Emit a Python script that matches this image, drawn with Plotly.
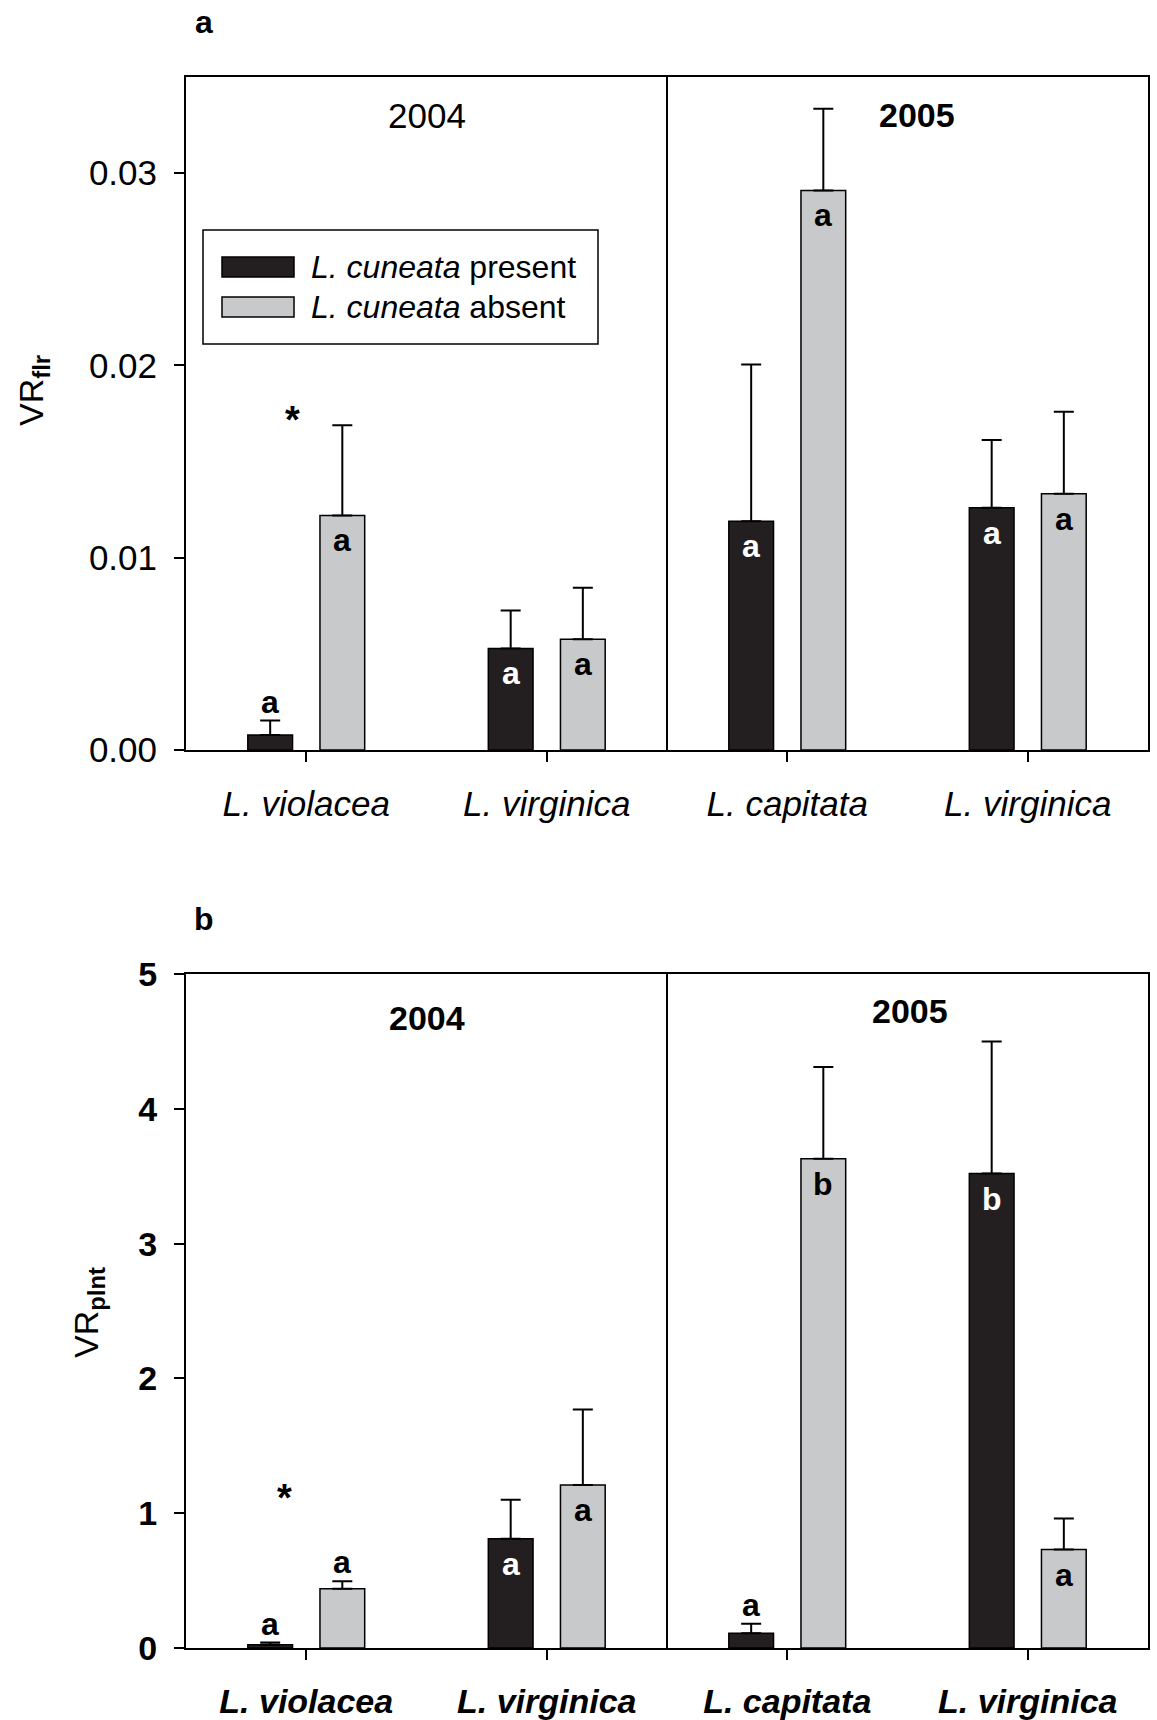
import plotly.graph_objects as go

W, H = 1157, 1720

# ---------------- data ----------------
species = ["L. violacea", "L. virginica", "L. capitata", "L. virginica"]
x_pos = [0, 1, 2, 3]
years = ["2004", "2005"]

# panel a : VR_flr
flr_present = [0.00078, 0.00528, 0.0119, 0.0126]
flr_present_se = [0.00075, 0.00198, 0.00815, 0.00352]
flr_absent = [0.0122, 0.00576, 0.0291, 0.01333]
flr_absent_se = [0.00469, 0.00268, 0.00425, 0.00426]
flr_letters_present = ["a", "a", "a", "a"]
flr_letters_absent = ["a", "a", "a", "a"]
flr_inside_present = [False, True, True, True]
flr_inside_absent = [True, True, True, True]
flr_ticks = [0, 0.01, 0.02, 0.03]

# panel b : VR_plnt
plnt_present = [0.025, 0.81, 0.11, 3.52]
plnt_present_se = [0.015, 0.29, 0.07, 0.98]
plnt_absent = [0.44, 1.21, 3.63, 0.73]
plnt_absent_se = [0.055, 0.56, 0.68, 0.23]
plnt_letters_present = ["a", "a", "a", "b"]
plnt_letters_absent = ["a", "a", "b", "a"]
plnt_inside_present = [False, True, False, True]
plnt_inside_absent = [False, True, True, True]
plnt_ticks = [0, 1, 2, 3, 4, 5]

BLACK = "#231f20"
GREY = "#c8c9cb"
FONT = "Liberation Sans, Arial, sans-serif"

BARGAP = 0.4
BARGROUPGAP = 0.38
OFF = (1 - BARGAP) / 4  # bar-centre offset from category centre


def px_x(px):
    return px / W


def px_y(py):
    return 1 - py / H


fig = go.Figure()

panels = [
    dict(xa="x", ya="y", pres=flr_present, pres_se=flr_present_se, abs_=flr_absent,
         abs_se=flr_absent_se, lp=flr_letters_present, la=flr_letters_absent,
         ip=flr_inside_present, ia=flr_inside_absent),
    dict(xa="x2", ya="y2", pres=plnt_present, pres_se=plnt_present_se, abs_=plnt_absent,
         abs_se=plnt_absent_se, lp=plnt_letters_present, la=plnt_letters_absent,
         ip=plnt_inside_present, ia=plnt_inside_absent),
]

annotations = []


def note(**kw):
    kw.setdefault("showarrow", False)
    kw.setdefault("xanchor", "center")
    kw.setdefault("yanchor", "middle")
    annotations.append(kw)


for p in panels:
    fig.add_trace(go.Bar(
        x=x_pos, y=p["pres"], name="L. cuneata present", xaxis=p["xa"], yaxis=p["ya"],
        marker=dict(color=BLACK, line=dict(color="black", width=1.5)),
        error_y=dict(type="data", symmetric=False, array=p["pres_se"],
                     arrayminus=[0] * 4, color="black", thickness=2, width=10),
        showlegend=False, offsetgroup="present"))
    fig.add_trace(go.Bar(
        x=x_pos, y=p["abs_"], name="L. cuneata absent", xaxis=p["xa"], yaxis=p["ya"],
        marker=dict(color=GREY, line=dict(color="black", width=1.5)),
        error_y=dict(type="data", symmetric=False, array=p["abs_se"],
                     arrayminus=[0] * 4, color="black", thickness=2, width=10),
        showlegend=False, offsetgroup="absent"))

    for i in range(4):
        for vals, ses, lets, ins, sign, fill in (
            (p["pres"], p["pres_se"], p["lp"], p["ip"], -1, "white"),
            (p["abs_"], p["abs_se"], p["la"], p["ia"], 1, "black"),
        ):
            if ins[i]:
                yv, ys, col = vals[i], -25, fill
            else:
                yv, ys, col = vals[i] + ses[i], 19, "black"
            note(x=x_pos[i] + sign * OFF, y=yv, xref=p["xa"], yref=p["ya"],
                 text="<b>%s</b>" % lets[i], yshift=ys,
                 font=dict(family=FONT, size=32, color=col))

# asterisks
note(x=-0.058, y=0.01717, xref="x", yref="y", text="<b>*</b>",
     font=dict(family=FONT, size=38, color="black"))
note(x=-0.09, y=1.11, xref="x2", yref="y2", text="<b>*</b>",
     font=dict(family=FONT, size=38, color="black"))

# year labels
note(x=0.5, y=0.9435, xref="x", yref="y domain", text=years[0],
     font=dict(family=FONT, size=35, color="black"))
note(x=2.54, y=0.9435, xref="x", yref="y domain", text="<b>%s</b>" % years[1],
     font=dict(family=FONT, size=34, color="black"))
note(x=0.5, y=0.935, xref="x2", yref="y2 domain", text="<b>%s</b>" % years[0],
     font=dict(family=FONT, size=34, color="black"))
note(x=2.51, y=0.945, xref="x2", yref="y2 domain", text="<b>%s</b>" % years[1],
     font=dict(family=FONT, size=34, color="black"))

# panel letters
note(x=px_x(204), y=px_y(22), xref="paper", yref="paper", text="<b>a</b>",
     font=dict(family=FONT, size=32, color="black"))
note(x=px_x(204), y=px_y(919), xref="paper", yref="paper", text="<b>b</b>",
     font=dict(family=FONT, size=32, color="black"))

# y-axis titles
note(x=px_x(33), y=px_y(391), xref="paper", yref="paper", text="VR<sub><b>flr</b></sub>",
     textangle=-90, font=dict(family=FONT, size=34, color="black"))
note(x=px_x(88), y=px_y(1312), xref="paper", yref="paper", text="VR<sub><b>plnt</b></sub>",
     textangle=-90, font=dict(family=FONT, size=34, color="black"))

# legend (drawn manually to reproduce the wide swatches)
legend_labels = ["<i>L. cuneata</i> present", "<i>L. cuneata</i> absent"]
legend_colors = [BLACK, GREY]
shapes = [dict(type="rect", xref="paper", yref="paper", x0=px_x(203), x1=px_x(598),
               y0=px_y(344), y1=px_y(230), line=dict(color="black", width=1.5),
               fillcolor="white", layer="above")]
for k, (lab, col) in enumerate(zip(legend_labels, legend_colors)):
    cy = 267 + 40 * k
    shapes.append(dict(type="rect", xref="paper", yref="paper", x0=px_x(222), x1=px_x(294),
                       y0=px_y(cy + 10), y1=px_y(cy - 10), fillcolor=col,
                       line=dict(color="black", width=1.5), layer="above"))
    note(x=px_x(309), y=px_y(cy), xref="paper", yref="paper", text=lab, xanchor="left",
         font=dict(family=FONT, size=32, color="black"))

# year dividers
shapes += [
    dict(type="line", xref="x", yref="y domain", x0=1.5, x1=1.5, y0=0, y1=1,
         line=dict(color="black", width=2)),
    dict(type="line", xref="x2", yref="y2 domain", x0=1.5, x1=1.5, y0=0, y1=1,
         line=dict(color="black", width=2)),
]

axis_common = dict(showline=True, linewidth=2, linecolor="black", mirror=True,
                   ticks="outside", ticklen=10, tickwidth=2, tickcolor="black",
                   showgrid=False, zeroline=False, automargin=False)

xdom = [px_x(186), px_x(1148)]
fig.update_layout(
    width=W, height=H, autosize=False,
    margin=dict(l=0, r=0, t=0, b=0, pad=0),
    paper_bgcolor="white", plot_bgcolor="white",
    barmode="group", bargap=BARGAP, bargroupgap=BARGROUPGAP,
    showlegend=False,
    xaxis=dict(domain=xdom, anchor="y", range=[-0.5, 3.5], tickvals=x_pos,
               ticktext=["<i>%s</i>" % s for s in species], ticklabelstandoff=12,
               tickfont=dict(family=FONT, size=35, color="black"), **axis_common),
    yaxis=dict(domain=[px_y(750), px_y(77)], anchor="x", range=[0, 0.035],
               tickvals=flr_ticks, ticktext=["%.2f" % t for t in flr_ticks],
               ticklabelstandoff=10,
               tickfont=dict(family=FONT, size=35, color="black"), **axis_common),
    xaxis2=dict(domain=xdom, anchor="y2", range=[-0.5, 3.5], tickvals=x_pos,
                ticktext=["<b><i>%s</i></b>" % s for s in species], ticklabelstandoff=12,
                tickfont=dict(family=FONT, size=34, color="black"), **axis_common),
    yaxis2=dict(domain=[px_y(1648), px_y(974)], anchor="x2", range=[0, 5],
                tickvals=plnt_ticks, ticktext=["<b>%d</b>" % t for t in plnt_ticks],
                ticklabelstandoff=10,
                tickfont=dict(family=FONT, size=34, color="black"), **axis_common),
    annotations=annotations,
    shapes=shapes,
)

fig.write_html("out.html")
